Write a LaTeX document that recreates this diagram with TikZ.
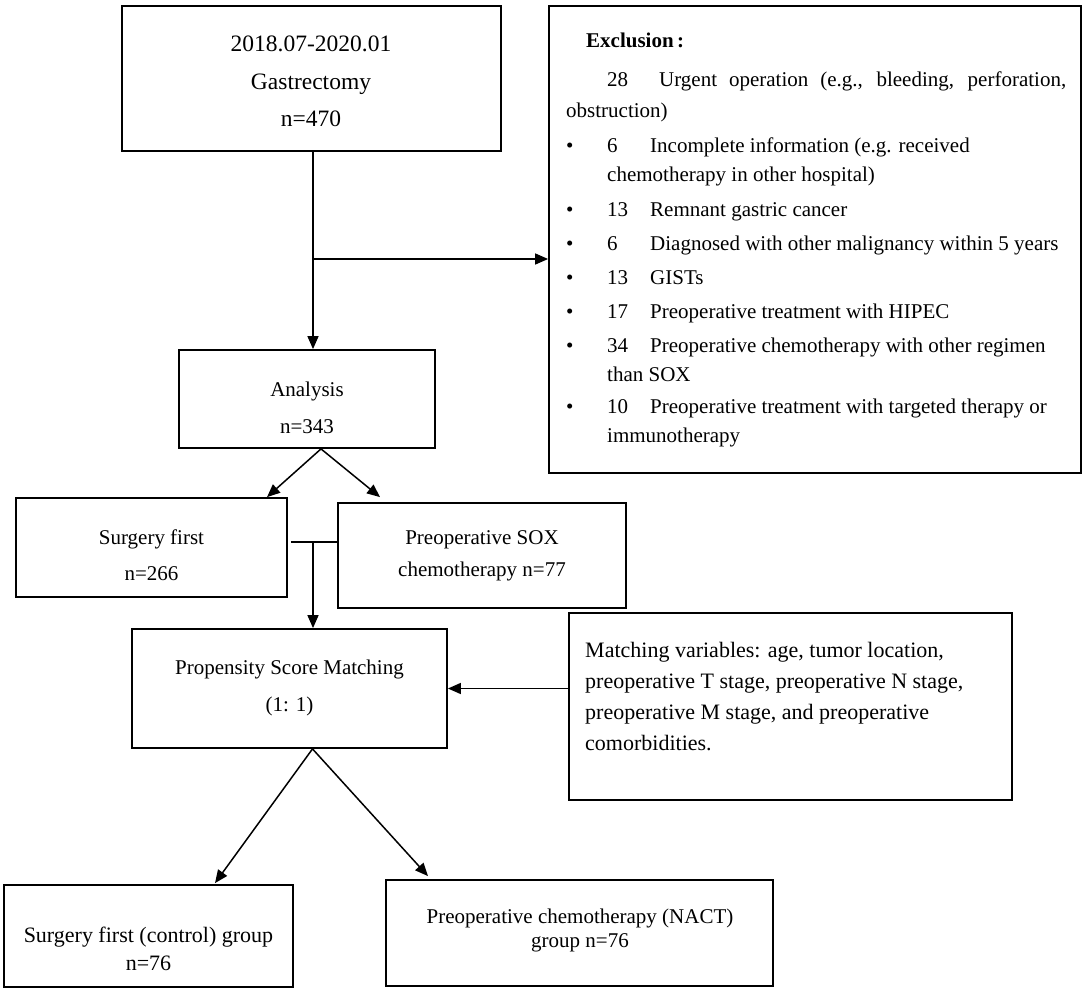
\documentclass[tikz,border=0pt]{standalone}
\usepackage{fontspec}
\setmainfont{Liberation Serif}
\usetikzlibrary{arrows.meta,calc}
\begin{document}
\begin{tikzpicture}[x=1pt,y=-1pt,
  box/.style={draw, line width=1.8pt, inner sep=0pt, rectangle},
  conn/.style={line width=1.5pt},
  arr/.style={conn, -{Triangle[length=13pt,width=11pt]}},
  ctext/.style={inner sep=0pt, align=center},
  ltext/.style={inner sep=0pt, anchor=west, text height=15pt, text depth=5pt, font=\fontsize{21}{25}\selectfont},
  mtext/.style={inner sep=0pt, anchor=west, text height=16pt, text depth=5pt, font=\fontsize{22}{26}\selectfont},
]
\useasboundingbox (0,0) rectangle (1084,992);

% boxes
\node[box, minimum width=379pt, minimum height=145pt] (box1) at (311.5,78.5) {};
\node[box, minimum width=532pt, minimum height=467pt] (excl) at (815,239.5) {};
\node[box, minimum width=256pt, minimum height=98pt] (ana) at (307,399) {};
\node[box, minimum width=271pt, minimum height=99pt] (sf) at (151.5,547.5) {};
\node[box, minimum width=288pt, minimum height=105pt] (sox) at (482,555.5) {};
\node[box, minimum width=315pt, minimum height=119pt] (psm) at (289.5,688.5) {};
\node[box, minimum width=443pt, minimum height=187pt] (match) at (790.5,706.5) {};
\node[box, minimum width=289pt, minimum height=102pt] (bl) at (148.5,936) {};
\node[box, minimum width=387pt, minimum height=106pt] (br) at (579.5,933) {};

% box texts
\node[ctext, font=\fontsize{23.5}{37.5}\selectfont] (box1t) at (311,81.5) {2018.07-2020.01\\Gastrectomy\\n=470};
\node[ctext, font=\fontsize{21}{37}\selectfont] (anat) at (307,407.5) {Analysis\\n=343};
\node[ctext, font=\fontsize{21}{36}\selectfont] (sft) at (151.5,555) {Surgery first\\n=266};
\node[ctext, font=\fontsize{21}{32}\selectfont] (soxt) at (482,556) {Preoperative SOX\\chemotherapy n=77};
\node[ctext, font=\fontsize{21}{37}\selectfont] (psmt) at (289.5,687.5) {Propensity Score Matching\\(1: 1)};
\node[ctext, font=\fontsize{22}{28}\selectfont] (blt) at (148.5,949) {Surgery first (control) group\\n=76};
\node[ctext, font=\fontsize{21}{24}\selectfont] (brt) at (580,930.5) {Preoperative chemotherapy (NACT)\\group n=76};

% exclusion texts
\node[ltext, font=\fontsize{21}{25}\selectfont\bfseries] (ex0) at (586,43) {Exclusion\,:};
\node[ltext] (ex1n) at (607,82) {28};
\node[ltext] (ex1t) at (659,82) {\makebox[407pt][s]{Urgent operation (e.g., bleeding, perforation,}};
\node[ltext] (ex1c) at (566,113) {obstruction)};
\node[ltext] (b2) at (566,148) {•};
\node[ltext] (ex2n) at (607,148) {6};
\node[ltext] (ex2t) at (650,148) {Incomplete information (e.g. received};
\node[ltext] (ex2c) at (607,177) {chemotherapy in other hospital)};
\node[ltext] (b3) at (566,212) {•};
\node[ltext] (ex3n) at (607,212) {13};
\node[ltext] (ex3t) at (650,212) {Remnant gastric cancer};
\node[ltext] (b4) at (566,246) {•};
\node[ltext] (ex4n) at (607,246) {6};
\node[ltext] (ex4t) at (650,246) {Diagnosed with other malignancy within 5 years};
\node[ltext] (b5) at (566,279) {•};
\node[ltext] (ex5n) at (607,279) {13};
\node[ltext] (ex5t) at (650,279) {GISTs};
\node[ltext] (b6) at (566,313) {•};
\node[ltext] (ex6n) at (607,313) {17};
\node[ltext] (ex6t) at (650,313) {Preoperative treatment with HIPEC};
\node[ltext] (b7) at (566,347) {•};
\node[ltext] (ex7n) at (607,347) {34};
\node[ltext] (ex7t) at (650,347) {Preoperative chemotherapy with other regimen};
\node[ltext] (ex7c) at (607,376) {than SOX};
\node[ltext] (b8) at (566,408) {•};
\node[ltext] (ex8n) at (607,408) {10};
\node[ltext] (ex8t) at (650,408) {Preoperative treatment with targeted therapy or};
\node[ltext] (ex8c) at (607,437) {immunotherapy};

% matching texts
\node[mtext] (m1) at (585,652) {Matching variables: age, tumor location,};
\node[mtext] (m2) at (585,683) {preoperative T stage, preoperative N stage,};
\node[mtext] (m3) at (585,714) {preoperative M stage, and preoperative};
\node[mtext] (m4) at (585,745) {comorbidities.};

% junction coordinates
\coordinate (j1) at (313,259);
\coordinate (j2) at (313,542);

% connectors
\draw[conn] (box1.south -| j1) -- (j1);
\draw[arr] (j1) -- (ana.north -| j1);
\draw[arr] (j1) -- (excl.west |- j1);
\draw[arr] ([xshift=14pt]ana.south) -- ([xshift=115.5pt]sf.north);
\draw[arr] ([xshift=14pt]ana.south) -- ([xshift=-102pt,yshift=5pt]sox.north);
\draw[conn] ([xshift=3pt]sf.east |- j2) -- (sox.west |- j2);
\draw[arr] (j2) -- (psm.north -| j2);
\draw[arr] (match.west |- psm.east) -- (psm.east);
\draw[arr] ([xshift=23pt]psm.south) -- ([xshift=66.5pt,yshift=1pt]bl.north);
\draw[arr] ([xshift=23pt]psm.south) -- ([xshift=-151.5pt,yshift=3pt]br.north);
\end{tikzpicture}
\end{document}
